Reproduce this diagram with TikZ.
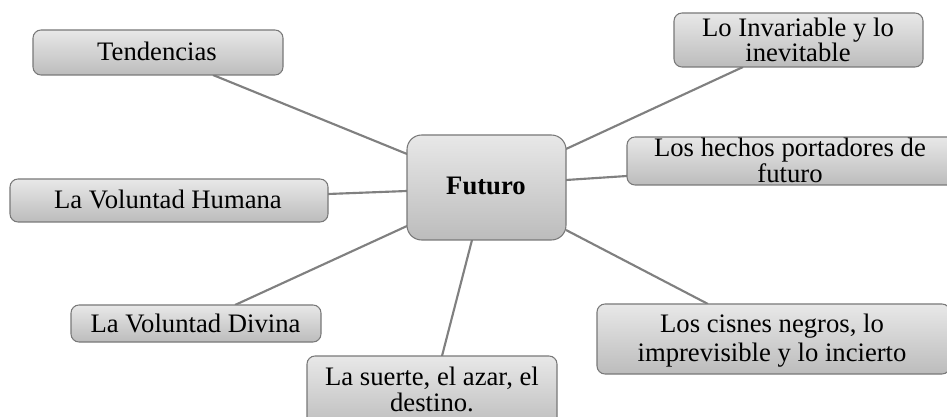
\documentclass[tikz,border=0pt]{standalone}
\usepackage{fontspec}
\setmainfont{Liberation Serif}
\usetikzlibrary{calc,backgrounds}
\definecolor{boxtop}{RGB}{232,232,232}
\definecolor{boxbot}{RGB}{188,188,188}
\definecolor{edgegray}{RGB}{120,120,120}
\definecolor{linkgray}{RGB}{128,128,128}
\tikzset{
  box/.style={draw=edgegray, line width=0.8pt, rounded corners=6pt,
    top color=boxtop, bottom color=boxbot, inner sep=0pt, outer sep=0pt},
  sz/.style 2 args={minimum width=#1*0.75pt, minimum height=#2*0.75pt},
  txt/.style={inner sep=0pt, anchor=base, font=\fontsize{20}{24}\selectfont},
  link/.style={draw=linkgray, line width=1.6pt},
}
\begin{document}
\begin{tikzpicture}[x=0.75pt, y=-0.75pt]
\useasboundingbox (0,0) rectangle (947,417);
\clip (0,0) rectangle (947,417);
% boxes
\node[box, sz={159}{105}, rounded corners=11pt] (fut) at (486.5,187.5) {};
\node[box, sz={250}{45}]  (tend) at (158,52.5) {};
\node[box, sz={249}{54}]  (inv)  at (798.5,40) {};
\node[box, sz={328}{48}]  (hech) at (791,161) {};
\node[box, sz={318}{43}]  (hum)  at (169,200.5) {};
\node[box, sz={250}{37}]  (div)  at (196,323.5) {};
\node[box, sz={250}{74}]  (suer) at (432,393) {};
\node[box, sz={353}{70}]  (cis)  at (773.5,339) {};
% connectors
\begin{scope}[on background layer]
\draw[link] ($(tend.south west)+(180,0)$) -- ($(fut.west)+(0,-33.5)$);
\draw[link] ($(inv.south west)+(69,0)$) -- ($(fut.east)+(0,-38.5)$);
\draw[link] ($(hech.west)+(0,15)$) -- ($(fut.east)+(0,-7.5)$);
\draw[link] ($(hum.east)+(0,-6.5)$) -- ($(fut.west)+(0,3.5)$);
\draw[link] ($(div.north west)+(164,0)$) -- ($(fut.west)+(0,38.5)$);
\draw[link] ($(suer.north west)+(135,0)$) -- ($(fut.south west)+(65,0)$);
\draw[link] ($(cis.north west)+(111,0)$) -- ($(fut.east)+(0,42.5)$);
\end{scope}
% texts
\node[txt, font=\fontsize{20}{24}\selectfont\bfseries] (fut-t) at (486,195) {Futuro};
\node[txt] (tend-t) at (157,61) {Tendencias};
\node[txt] (inv-t1) at (798,37) {Lo Invariable y lo};
\node[txt] (inv-t2) at (798,62) {inevitable};
\node[txt] (hech-t1) at (790,157) {Los hechos portadores de};
\node[txt] (hech-t2) at (790,183) {futuro};
\node[txt] (hum-t) at (168,209) {La Voluntad Humana};
\node[txt] (div-t) at (195.5,333) {La Voluntad Divina};
\node[txt] (suer-t1) at (432,385) {La suerte, el azar, el};
\node[txt] (suer-t2) at (432,411) {destino.};
\node[txt] (cis-t1) at (772,333) {Los cisnes negros, lo};
\node[txt] (cis-t2) at (772,362) {imprevisible y lo incierto};
\end{tikzpicture}
\end{document}
